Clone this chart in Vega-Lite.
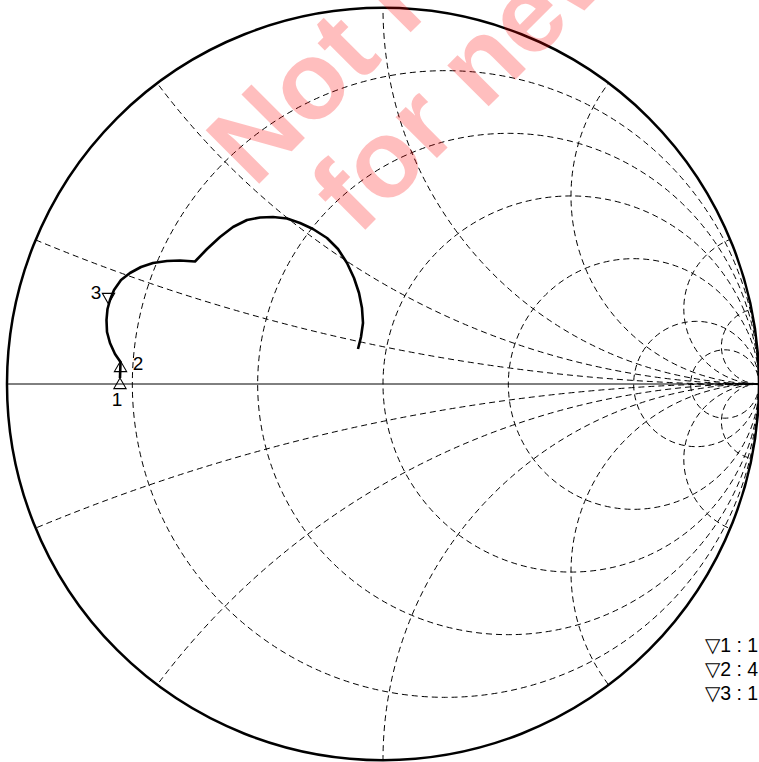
{
  "$schema": "https://vega.github.io/schema/vega-lite/v6.json",
  "width": 752,
  "height": 752,
  "autosize": {"type": "none"},
  "padding": {"left": 7, "top": 8, "right": 0, "bottom": 2},
  "background": "white",
  "config": {"view": {"stroke": null}},
  "datasets": {
    "grid": [
      {"x": 0.1667, "y": 0, "d": 1.6667},
      {"x": 0.3333, "y": 0, "d": 1.3333},
      {"x": 0.5, "y": 0, "d": 1.0},
      {"x": 0.6667, "y": 0, "d": 0.6667},
      {"x": 0.8333, "y": 0, "d": 0.3333},
      {"x": 0.9091, "y": 0, "d": 0.1818},
      {"x": 1, "y": 5, "d": 10},
      {"x": 1, "y": -5, "d": 10},
      {"x": 1, "y": 2, "d": 4},
      {"x": 1, "y": -2, "d": 4},
      {"x": 1, "y": 1, "d": 2},
      {"x": 1, "y": -1, "d": 2},
      {"x": 1, "y": 0.5, "d": 1},
      {"x": 1, "y": -0.5, "d": 1},
      {"x": 1, "y": 0.2, "d": 0.4},
      {"x": 1, "y": -0.2, "d": 0.4},
      {"x": 1, "y": 0.1, "d": 0.2},
      {"x": 1, "y": -0.1, "d": 0.2}
    ],
    "ring": [{"x": 0, "y": 0, "d": 2.532}],
    "outer": [{"x": 0, "y": 0, "d": 2}],
    "axisline": [{"x": -1, "y": 0}, {"x": 1, "y": 0}],
    "trace": [
      {"i": 0, "x": -0.6995, "y": 0.016},
      {"i": 1, "x": -0.6981, "y": 0.0585},
      {"i": 2, "x": -0.7128, "y": 0.0798},
      {"i": 3, "x": -0.7261, "y": 0.109},
      {"i": 4, "x": -0.734, "y": 0.1383},
      {"i": 5, "x": -0.7354, "y": 0.1702},
      {"i": 6, "x": -0.7327, "y": 0.1995},
      {"i": 7, "x": -0.7261, "y": 0.2234},
      {"i": 8, "x": -0.7154, "y": 0.25},
      {"i": 9, "x": -0.6968, "y": 0.2766},
      {"i": 10, "x": -0.6729, "y": 0.2952},
      {"i": 11, "x": -0.6436, "y": 0.3112},
      {"i": 12, "x": -0.6117, "y": 0.3218},
      {"i": 13, "x": -0.5745, "y": 0.3271},
      {"i": 14, "x": -0.5399, "y": 0.3285},
      {"i": 15, "x": -0.5, "y": 0.3258},
      {"i": 16, "x": -0.4681, "y": 0.359},
      {"i": 17, "x": -0.4335, "y": 0.391},
      {"i": 18, "x": -0.3989, "y": 0.4176},
      {"i": 19, "x": -0.3617, "y": 0.4362},
      {"i": 20, "x": -0.3271, "y": 0.4428},
      {"i": 21, "x": -0.2926, "y": 0.4441},
      {"i": 22, "x": -0.2553, "y": 0.4402},
      {"i": 23, "x": -0.2207, "y": 0.4282},
      {"i": 24, "x": -0.1862, "y": 0.4122},
      {"i": 25, "x": -0.1489, "y": 0.3883},
      {"i": 26, "x": -0.1197, "y": 0.359},
      {"i": 27, "x": -0.0957, "y": 0.3218},
      {"i": 28, "x": -0.0771, "y": 0.2819},
      {"i": 29, "x": -0.0638, "y": 0.242},
      {"i": 30, "x": -0.0559, "y": 0.2021},
      {"i": 31, "x": -0.0532, "y": 0.1622},
      {"i": 32, "x": -0.0585, "y": 0.125},
      {"i": 33, "x": -0.0665, "y": 0.0931}
    ],
    "markers": [
      {"id": "1", "dir": "up", "x": -0.6995, "y": 0.016, "lx": -0.7074, "ly": -0.0426},
      {"id": "2", "dir": "up", "x": -0.6981, "y": 0.0612, "lx": -0.6516, "ly": 0.0532},
      {"id": "3", "dir": "down", "x": -0.7301, "y": 0.2128, "lx": -0.7633, "ly": 0.242}
    ],
    "legend": [
      {"text": "▽1 : 1", "x": 0.857, "y": -0.697},
      {"text": "▽2 : 4", "x": 0.857, "y": -0.761},
      {"text": "▽3 : 1", "x": 0.857, "y": -0.824}
    ],
    "watermark": [
      {"text": "Not recommended", "x": -0.343, "y": 0.5186},
      {"text": "for new designs", "x": -0.0665, "y": 0.391}
    ]
  },
  "encoding": {
    "x": {"field": "x", "type": "quantitative", "scale": {"domain": [-1, 1], "nice": false, "zero": false}, "axis": null},
    "y": {"field": "y", "type": "quantitative", "scale": {"domain": [-1, 1], "nice": false, "zero": false}, "axis": null}
  },
  "layer": [
    {
      "data": {"name": "grid"},
      "mark": {"type": "point", "shape": "circle", "filled": false, "stroke": "black", "strokeWidth": 1, "strokeDash": [6, 4], "opacity": 1, "clip": true},
      "encoding": {
        "size": {"field": "d", "type": "quantitative", "scale": {"type": "pow", "exponent": 2, "domain": [0, 2], "range": [0, 565504]}, "legend": null}
      }
    },
    {
      "data": {"name": "ring"},
      "mark": {"type": "point", "shape": "circle", "filled": false, "stroke": "white", "strokeWidth": 200, "opacity": 1},
      "encoding": {
        "size": {"field": "d", "type": "quantitative", "legend": null}
      }
    },
    {
      "data": {"name": "outer"},
      "mark": {"type": "point", "shape": "circle", "filled": false, "stroke": "black", "strokeWidth": 2.5, "opacity": 1},
      "encoding": {
        "size": {"field": "d", "type": "quantitative", "legend": null}
      }
    },
    {
      "data": {"name": "axisline"},
      "mark": {"type": "line", "color": "black", "strokeWidth": 1}
    },
    {
      "data": {"name": "trace"},
      "mark": {"type": "line", "color": "black", "strokeWidth": 2.6, "strokeJoin": "round"},
      "encoding": {"order": {"field": "i", "type": "quantitative"}}
    },
    {
      "data": {"name": "markers"},
      "transform": [{"filter": "datum.dir == 'up'"}],
      "mark": {"type": "point", "shape": "triangle-up", "filled": false, "stroke": "black", "strokeWidth": 1.1, "size": 150, "yOffset": 5.3, "opacity": 1}
    },
    {
      "data": {"name": "markers"},
      "transform": [{"filter": "datum.dir == 'down'"}],
      "mark": {"type": "point", "shape": "triangle-down", "filled": false, "stroke": "black", "strokeWidth": 1.1, "size": 150, "yOffset": -5.3, "opacity": 1}
    },
    {
      "data": {"name": "markers"},
      "mark": {"type": "text", "font": "Liberation Sans", "fontSize": 19, "align": "center", "baseline": "middle", "color": "black"},
      "encoding": {
        "x": {"field": "lx", "type": "quantitative"},
        "y": {"field": "ly", "type": "quantitative"},
        "text": {"field": "id"}
      }
    },
    {
      "data": {"name": "legend"},
      "mark": {"type": "text", "font": "Liberation Sans", "fontSize": 19.5, "align": "left", "baseline": "middle", "color": "black"},
      "encoding": {"text": {"field": "text"}}
    },
    {
      "data": {"name": "watermark"},
      "mark": {"type": "text", "font": "Liberation Sans", "fontWeight": "bold", "fontSize": 110, "angle": -45, "align": "left", "baseline": "alphabetic", "color": "red", "opacity": 0.25},
      "encoding": {"text": {"field": "text"}}
    }
  ]
}
